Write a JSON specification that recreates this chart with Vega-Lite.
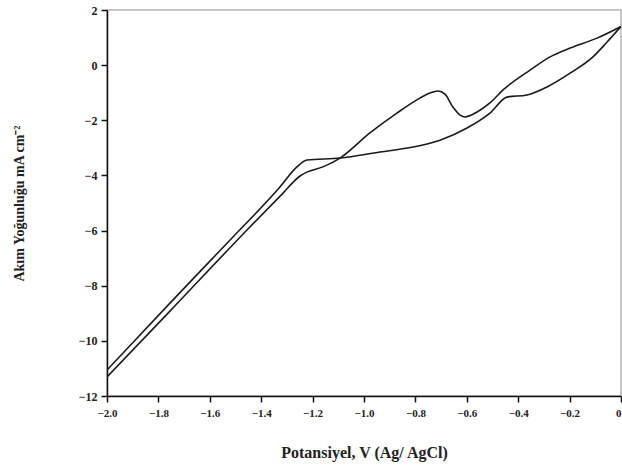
{
  "$schema": "https://vega.github.io/schema/vega-lite/v6.json",
  "autosize": "none",
  "width": 514,
  "height": 386,
  "padding": {"left": 107, "top": 10, "right": 1, "bottom": 77},
  "background": "white",
  "config": {
    "view": {"stroke": "#b5b5b5", "strokeWidth": 1.5},
    "axis": {
      "domainColor": "#111",
      "domainWidth": 1.5,
      "tickColor": "#111",
      "tickWidth": 1.5,
      "tickSize": 6,
      "grid": false,
      "labelFont": "Liberation Serif",
      "labelFontWeight": "bold",
      "labelColor": "#222",
      "titleFont": "Liberation Serif",
      "titleFontWeight": "bold",
      "titleColor": "#222"
    }
  },
  "data": {
    "values": [
      {"branch": "P", "i": 1, "E": 0.0, "j": 1.4},
      {"branch": "P", "i": 2, "E": -0.054, "j": 0.84},
      {"branch": "P", "i": 3, "E": -0.109, "j": 0.3},
      {"branch": "P", "i": 4, "E": -0.198, "j": -0.29},
      {"branch": "P", "i": 5, "E": -0.288, "j": -0.79},
      {"branch": "P", "i": 6, "E": -0.366, "j": -1.08},
      {"branch": "P", "i": 7, "E": -0.444, "j": -1.16},
      {"branch": "P", "i": 8, "E": -0.51, "j": -1.74},
      {"branch": "P", "i": 9, "E": -0.599, "j": -2.28},
      {"branch": "P", "i": 10, "E": -0.704, "j": -2.72},
      {"branch": "P", "i": 11, "E": -0.809, "j": -2.97},
      {"branch": "P", "i": 12, "E": -0.938, "j": -3.15},
      {"branch": "P", "i": 13, "E": -1.093, "j": -3.37},
      {"branch": "P", "i": 14, "E": -1.222, "j": -3.44},
      {"branch": "P", "i": 15, "E": -1.261, "j": -3.69},
      {"branch": "P", "i": 16, "E": -1.327, "j": -4.42},
      {"branch": "P", "i": 17, "E": -1.521, "j": -6.34},
      {"branch": "P", "i": 18, "E": -1.755, "j": -8.63},
      {"branch": "P", "i": 19, "E": -2.0, "j": -11.06},
      {"branch": "Q", "i": 1, "E": -2.0, "j": -11.31},
      {"branch": "Q", "i": 2, "E": -1.755, "j": -8.92},
      {"branch": "Q", "i": 3, "E": -1.444, "j": -5.87},
      {"branch": "Q", "i": 4, "E": -1.315, "j": -4.64},
      {"branch": "Q", "i": 5, "E": -1.249, "j": -4.02},
      {"branch": "Q", "i": 6, "E": -1.222, "j": -3.88},
      {"branch": "Q", "i": 7, "E": -1.16, "j": -3.69},
      {"branch": "Q", "i": 8, "E": -1.093, "j": -3.37},
      {"branch": "Q", "i": 9, "E": -0.977, "j": -2.46},
      {"branch": "Q", "i": 10, "E": -0.872, "j": -1.74},
      {"branch": "Q", "i": 11, "E": -0.794, "j": -1.26},
      {"branch": "Q", "i": 12, "E": -0.743, "j": -1.01},
      {"branch": "Q", "i": 13, "E": -0.712, "j": -0.94},
      {"branch": "Q", "i": 14, "E": -0.685, "j": -1.05},
      {"branch": "Q", "i": 15, "E": -0.654, "j": -1.52},
      {"branch": "Q", "i": 16, "E": -0.626, "j": -1.81},
      {"branch": "Q", "i": 17, "E": -0.607, "j": -1.88},
      {"branch": "Q", "i": 18, "E": -0.56, "j": -1.7},
      {"branch": "Q", "i": 19, "E": -0.51, "j": -1.37},
      {"branch": "Q", "i": 20, "E": -0.459, "j": -0.9},
      {"branch": "Q", "i": 21, "E": -0.354, "j": -0.18},
      {"branch": "Q", "i": 22, "E": -0.276, "j": 0.3},
      {"branch": "Q", "i": 23, "E": -0.198, "j": 0.62},
      {"branch": "Q", "i": 24, "E": -0.093, "j": 0.98},
      {"branch": "Q", "i": 25, "E": 0.0, "j": 1.4}
    ]
  },
  "mark": {"type": "line", "color": "#1a1a1a", "strokeWidth": 1.6, "interpolate": "monotone", "clip": true},
  "encoding": {
    "x": {
      "field": "E",
      "type": "quantitative",
      "scale": {"domain": [-2, 0], "nice": false, "zero": false},
      "axis": {
        "title": "Potansiyel, V (Ag/ AgCl)",
        "titleFontSize": 16,
        "titlePadding": 26,
        "labelFontSize": 11,
        "labelPadding": 5,
        "values": [-2, -1.8, -1.6, -1.4, -1.2, -1, -0.8, -0.6, -0.4, -0.2, 0],
        "labelExpr": "datum.value == 0 ? '0' : format(datum.value, '.1f')",
        "labelAlign": {"condition": {"test": "datum.value == 0", "value": "right"}, "value": "center"},
        "labelFlush": false
      }
    },
    "y": {
      "field": "j",
      "type": "quantitative",
      "scale": {"domain": [-12, 2], "nice": false, "zero": false},
      "axis": {
        "title": "Akım Yoğunluğu mA cm⁻²",
        "titleFontSize": 14,
        "titlePadding": 52,
        "labelFontSize": 12,
        "labelPadding": 4,
        "values": [-12, -10, -8, -6, -4, -2, 0, 2],
        "labelFlush": false
      }
    },
    "detail": {"field": "branch"},
    "order": {"field": "i", "type": "quantitative"}
  }
}
